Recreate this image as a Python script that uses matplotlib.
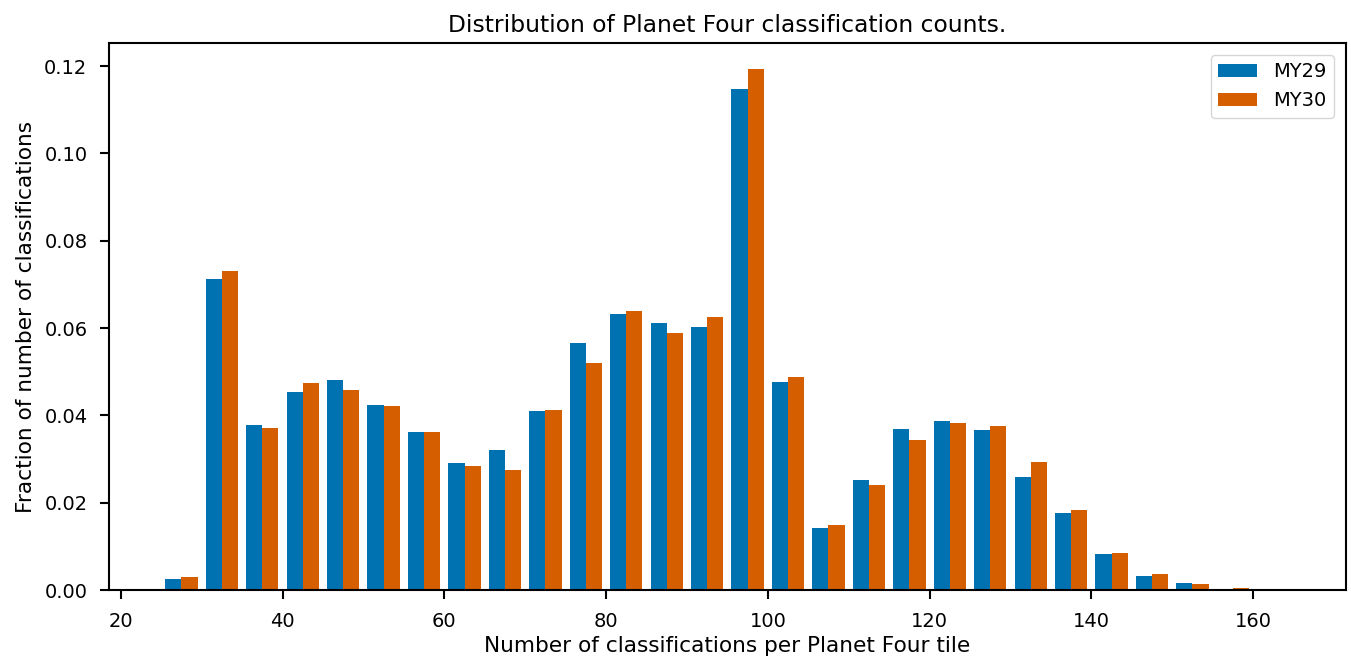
import numpy as np
import matplotlib
matplotlib.use("Agg")
import matplotlib.pyplot as plt

# histogram bin edges (classifications per tile)
edges = np.arange(25, 170, 5)

# fraction of classifications per bin
my29 = [0.0026, 0.0713, 0.0377, 0.0454, 0.0481, 0.0424, 0.0363, 0.0291, 0.0320, 0.0410,
        0.0566, 0.0631, 0.0612, 0.0603, 0.1147, 0.0476, 0.0143, 0.0251, 0.0369, 0.0387,
        0.0366, 0.0259, 0.0176, 0.0082, 0.0031, 0.0015, 0.0003, 0.0]
my30 = [0.0030, 0.0730, 0.0371, 0.0474, 0.0459, 0.0421, 0.0363, 0.0283, 0.0275, 0.0412,
        0.0521, 0.0639, 0.0589, 0.0625, 0.1193, 0.0488, 0.0149, 0.0241, 0.0344, 0.0382,
        0.0375, 0.0294, 0.0183, 0.0084, 0.0037, 0.0013, 0.0005, 0.0]
labels = ["MY29", "MY30"]
colors = ["#0072B2", "#D55E00"]

plt.rcParams["font.size"] = 14
plt.rcParams["xtick.direction"] = "out"
plt.rcParams["ytick.direction"] = "out"

fig = plt.figure(figsize=(13.51, 6.64), dpi=100)
ax = fig.add_axes([0.0807, 0.1114, 0.9154, 0.8238])

centers = edges[:-1] + 2.5
ax.hist([centers, centers], bins=edges, weights=[my29, my30],
        color=colors, label=labels)

ax.set_title("Distribution of Planet Four classification counts.", fontsize=16.8, pad=8)
ax.set_xlabel("Number of classifications per Planet Four tile", fontsize=15.6, labelpad=4)
ax.set_ylabel("Fraction of number of classifications", fontsize=15.6, labelpad=6)
ax.set_xticks(range(20, 161, 20))
ax.set_yticks(np.arange(0, 0.121, 0.02))
for s in ax.spines.values():
    s.set_linewidth(1.5)
ax.tick_params(width=1.5, length=6.5, pad=9, labelsize=14)
ax.legend(loc="upper right", borderaxespad=0.6)

fig.savefig("out.png", dpi=100)
